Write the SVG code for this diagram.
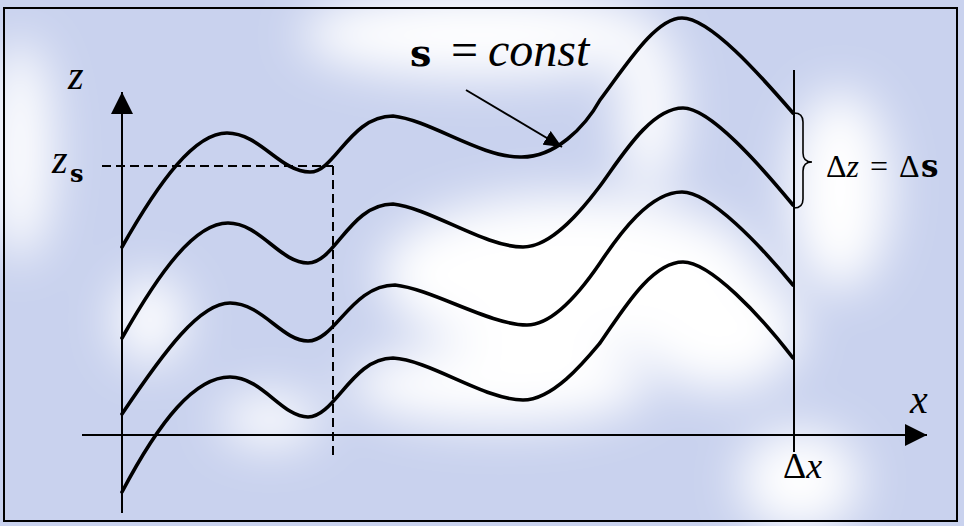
<svg xmlns="http://www.w3.org/2000/svg" width="964" height="526" viewBox="0 0 964 526">
<defs>
<filter id="blur" x="-50%" y="-50%" width="200%" height="200%"><feGaussianBlur stdDeviation="24"/></filter>
<marker id="ah" markerUnits="userSpaceOnUse" markerWidth="22" markerHeight="22" refX="20" refY="10" orient="auto" viewBox="0 0 20 20"><path d="M0,0 L20,10 L0,20 Z" fill="#000"/></marker>
<marker id="ah2" markerUnits="userSpaceOnUse" markerWidth="18" markerHeight="16" refX="18" refY="8" orient="auto" viewBox="0 0 18 16"><path d="M0,0 L18,8 L0,16 Z" fill="#000"/></marker>
</defs>
<style>
.curve{fill:none;stroke:#000;stroke-width:3.6;stroke-linejoin:round;stroke-linecap:round}
.axis{fill:none;stroke:#000;stroke-width:2}
.dash{fill:none;stroke:#000;stroke-width:2;stroke-dasharray:9 5}
</style>
<g id="background">
<rect x="0" y="0" width="964" height="526" fill="#c9d2ee"/>
<g filter="url(#blur)" fill="#ffffff">
<ellipse cx="20" cy="150" rx="32" ry="110"/>
<ellipse cx="480" cy="35" rx="180" ry="42"/>
<ellipse cx="570" cy="275" rx="190" ry="80"/>
<ellipse cx="500" cy="385" rx="150" ry="40"/>
<ellipse cx="840" cy="190" rx="50" ry="100"/>
<ellipse cx="800" cy="480" rx="60" ry="50"/>
<ellipse cx="150" cy="320" rx="35" ry="45"/>
<ellipse cx="270" cy="420" rx="50" ry="25"/>
<ellipse cx="650" cy="110" rx="30" ry="80"/>
<ellipse cx="720" cy="330" rx="80" ry="60"/>
</g>
</g>
<rect id="frame" x="4" y="8" width="953" height="513" fill="none" stroke="#000" stroke-width="2"/>
<g id="connectors">
<line class="axis" x1="122" y1="513" x2="122" y2="92" marker-end="url(#ah)"/>
<line class="axis" x1="82" y1="435" x2="927" y2="435" marker-end="url(#ah)"/>
<line class="axis" x1="794" y1="70" x2="794" y2="452"/>
<line class="dash" x1="102" y1="166" x2="333" y2="166"/>
<line class="dash" x1="333" y1="166" x2="333" y2="455"/>
<line class="axis" x1="466" y1="90" x2="562" y2="147" stroke-width="1.6" marker-end="url(#ah2)"/>
<path id="brace" d="M794,113 Q803,113 803,122 L803,153 Q803,162 812,162 Q803,162 803,171 L803,199 Q803,208 794,208" fill="none" stroke="#000" stroke-width="1.6"/>
</g>
<g id="curve1"><path class="curve" d="M122,247 C160,180 195,133 227,133 C260,133 280,172 310,172 C335,172 350,116 393,116 C430,120 480,157 520,157 C555,158 585,127 600,100 C625,67 655,18 682,18 C710,18 760,75 793,113"/></g>
<g id="curve2"><path class="curve" d="M122,338 C160,271 195,223 228,223 C260,223 280,263 308,263 C335,263 350,204 393,204 C430,208 485,247 523,247 C553,247 585,206 600,186 C620,159 650,108 683,108 C710,108 760,165 793,205"/></g>
<g id="curve3"><path class="curve" d="M122,414 C165,350 200,303 230,303 C262,303 282,341 308,341 C335,341 352,285 395,285 C432,289 490,325 527,325 C555,325 585,285 600,263 C620,233 650,192 682,192 C710,192 760,245 793,285"/></g>
<g id="curve4"><path class="curve" d="M122,492 C160,420 195,377 230,377 C262,377 282,417 308,417 C335,417 352,358 393,358 C430,360 485,400 523,400 C553,400 585,361 600,343 C620,315 650,262 683,262 C710,262 760,315 793,358"/></g>
<g id="labels" font-family="Liberation Serif, Times New Roman, serif">
<text x="68" y="89" font-size="40" font-style="italic">z</text>
<text x="52" y="173" font-size="40"><tspan font-style="italic">z</tspan><tspan font-family="DejaVu Serif, serif" font-weight="bold" x="70" y="182" font-size="24">s</tspan></text>
<text x="410" y="66" font-size="48"><tspan font-family="DejaVu Serif, serif" font-weight="bold" font-size="38">s</tspan><tspan x="451">=</tspan><tspan x="488" font-style="italic">const</tspan></text>
<text x="826" y="177" font-size="32"><tspan>Δ</tspan><tspan font-style="italic">z</tspan><tspan x="870">=</tspan><tspan x="899">Δ</tspan><tspan font-family="DejaVu Serif, serif" font-weight="bold" x="921" font-size="31">s</tspan></text>
<text x="910" y="413" font-size="40" font-style="italic">x</text>
<text x="783" y="478" font-size="36"><tspan>Δ</tspan><tspan font-style="italic">x</tspan></text>
</g>
</svg>
